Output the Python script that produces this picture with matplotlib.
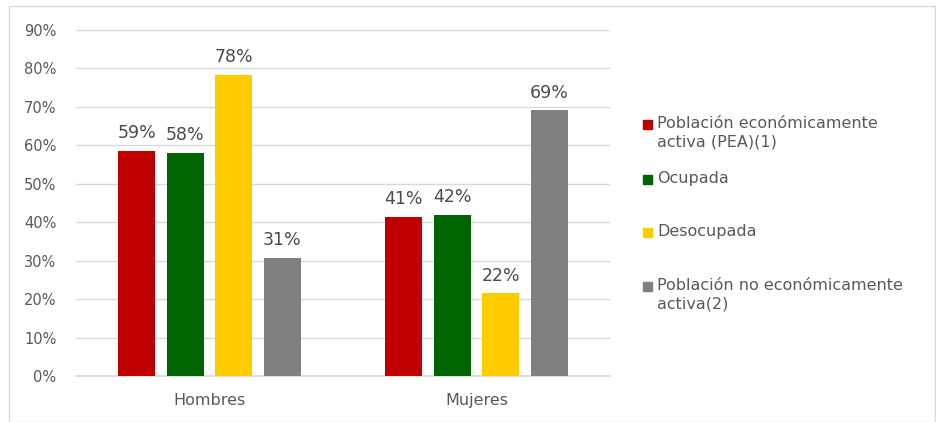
import matplotlib
matplotlib.use("Agg")
import matplotlib.pyplot as plt
import numpy as np
from matplotlib.patches import Rectangle
from matplotlib.ticker import PercentFormatter

categories = ["Hombres", "Mujeres"]
series_names = [
    "Población económicamente\nactiva (PEA)(1)",
    "Ocupada",
    "Desocupada",
    "Población no económicamente\nactiva(2)",
]
pea = [58.6, 41.4]
ocupada = [58.1, 41.9]
desocupada = [78.4, 21.6]
no_pea = [30.8, 69.2]
labels = [["59%", "41%"], ["58%", "42%"], ["78%", "22%"], ["31%", "69%"]]
colors = ["#c00000", "#006400", "#ffcc00", "#808080"]

plt.rcParams["font.family"] = ["DejaVu Sans"]
txt = "#595959"

fig = plt.figure(figsize=(9.37, 4.22), dpi=100)
W, H = 937, 422
ax = fig.add_axes([76 / W, 1 - 376 / H, (610 - 76) / W, (376 - 30) / H])

# outer frame
fig.patches.append(Rectangle((9 / W, 0), (935 - 9) / W, 1 - 6 / H,
                             transform=fig.transFigure, fill=False,
                             edgecolor="#d9d9d9", linewidth=1))

x = np.arange(len(categories))
width = 0.14
step = 0.182
all_vals = [pea, ocupada, desocupada, no_pea]
for i, vals in enumerate(all_vals):
    pos = x + (i - 1.5) * step
    ax.bar(pos, vals, width=width, color=colors[i], zorder=3)
    for p, v, lab in zip(pos, vals, labels[i]):
        ax.text(p, v + 2.2, lab, ha="center", va="bottom", fontsize=12.5,
                color="#4a4a4a")

ax.set_xlim(-0.5, 1.5)
ax.set_ylim(0, 90)
ax.set_yticks(np.arange(0, 91, 10))
ax.yaxis.set_major_formatter(PercentFormatter(decimals=0))
ax.set_xticks(x)
ax.set_xticklabels(categories)
ax.grid(axis="y", color="#d9d9d9", linewidth=1, zorder=0)
ax.axhline(0, color="#d9d9d9", linewidth=1.2, zorder=2, clip_on=False)
for s in ax.spines.values():
    s.set_visible(False)
ax.tick_params(axis="both", length=0, colors=txt, labelsize=10.5)
ax.tick_params(axis="y", pad=14)
ax.tick_params(axis="x", pad=12, labelsize=11.5)

# legend drawn by hand
leg_y = [124, 179, 232, 286]
for name, c, yy in zip(series_names, colors, leg_y):
    fig.patches.append(Rectangle((643 / W, 1 - (yy + 5) / H), 9 / W, 9 / H,
                                 transform=fig.transFigure, color=c))
    fig.text(657 / W, 1 - (yy - 8) / H, name, ha="left", va="top",
             fontsize=11.5, color=txt, linespacing=1.3)

fig.savefig("out.png", dpi=100)
